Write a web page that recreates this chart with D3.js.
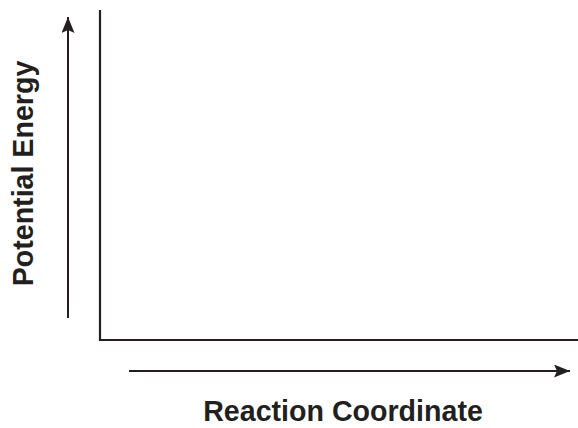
<!DOCTYPE html>
<html>
<head>
<meta charset="utf-8">
<script src="https://cdn.jsdelivr.net/npm/d3@7"></script>
<style>
  html, body { margin: 0; padding: 0; background: #fff; }
  svg { display: block; }
</style>
</head>
<body>
<div id="chart"></div>
<script>
// Axis titles and the (empty) value ranges of the diagram
const xTitle = ["Reaction Coordinate"];
const yTitle = ["Potential Energy"];
const xDomain = [0, 1];
const yDomain = [0, 1];

const width = 578;
const height = 428;
const ink = "#231f20";

// plot frame
const frame = { left: 100, right: 578, top: 10, bottom: 340 };

const svg = d3
  .select("#chart")
  .append("svg")
  .attr("width", width)
  .attr("height", height);

const xScale = d3.scaleLinear().domain(xDomain).range([frame.left, frame.right]);
const yScale = d3.scaleLinear().domain(yDomain).range([frame.bottom, frame.top]);

// arrowhead marker
svg
  .append("defs")
  .append("marker")
  .attr("id", "head")
  .attr("viewBox", "0 0 16 13")
  .attr("refX", 16)
  .attr("refY", 6.5)
  .attr("markerWidth", 16)
  .attr("markerHeight", 13)
  .attr("markerUnits", "userSpaceOnUse")
  .attr("orient", "auto")
  .append("path")
  .attr("d", "M0,0 L16,6.5 L0,13 L3,6.5 Z")
  .attr("fill", ink);

// axis frame (left + bottom)
svg
  .append("path")
  .attr(
    "d",
    `M${xScale(0)},${yScale(1)} V${yScale(0)} H${xScale(1)}`
  )
  .attr("fill", "none")
  .attr("stroke", ink)
  .attr("stroke-width", 2.2);

// y arrow
svg
  .append("line")
  .attr("x1", 68)
  .attr("x2", 68)
  .attr("y1", 318)
  .attr("y2", 17)
  .attr("stroke", ink)
  .attr("stroke-width", 2)
  .attr("marker-end", "url(#head)");

// x arrow
svg
  .append("line")
  .attr("x1", 129)
  .attr("x2", 570)
  .attr("y1", 371)
  .attr("y2", 371)
  .attr("stroke", ink)
  .attr("stroke-width", 2)
  .attr("marker-end", "url(#head)");

const fontFamily = "'Liberation Sans', Arial, Helvetica, sans-serif";

svg
  .append("text")
  .attr("x", 343)
  .attr("y", 421)
  .attr("text-anchor", "middle")
  .attr("font-family", fontFamily)
  .attr("font-weight", "bold")
  .attr("font-size", 28.6)
  .attr("fill", ink)
  .text(xTitle[0]);

svg
  .append("text")
  .attr("transform", "translate(33,173.5) rotate(-90)")
  .attr("text-anchor", "middle")
  .attr("font-family", fontFamily)
  .attr("font-weight", "bold")
  .attr("font-size", 28.6)
  .attr("fill", ink)
  .text(yTitle[0]);
</script>
</body>
</html>
